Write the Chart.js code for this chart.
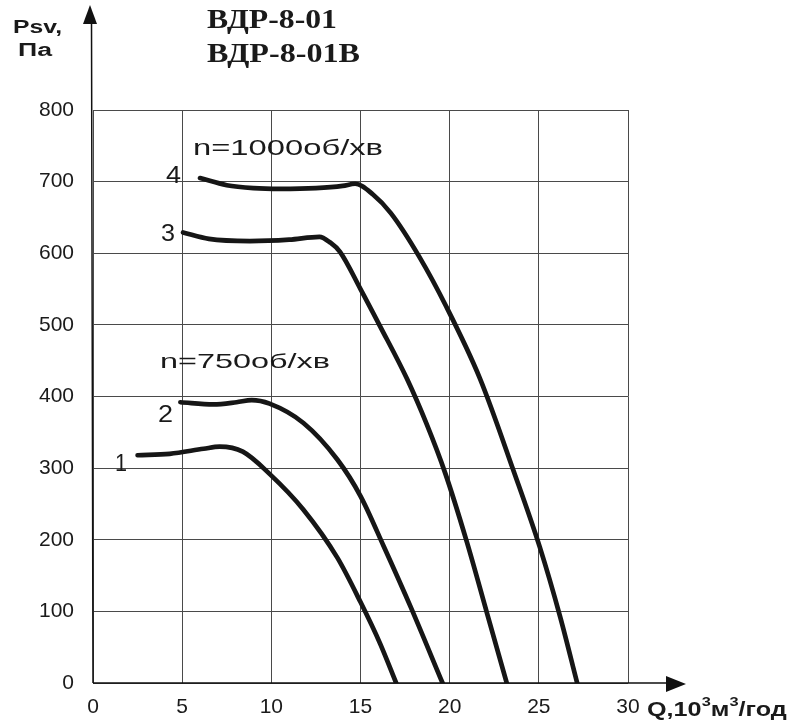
<!DOCTYPE html>
<html>
<head>
<meta charset="utf-8">
<script src="https://cdn.jsdelivr.net/npm/chart.js@4.4.0/dist/chart.umd.min.js"></script>
<style>
  html, body { margin: 0; padding: 0; background: #fff; }
  #wrap { width: 797px; height: 725px; position: relative; }
</style>
</head>
<body>
<div id="wrap"><canvas id="fanChart" width="797" height="725"></canvas></div>
<script>
// характеристики ВДР-8-01, Q (тис. м3/год) / Psv (Па)
const q1 = [2.5, 4.3, 6.2, 7.1, 8.4, 9.9, 11.8, 13.7, 15.0, 16.1, 17.0];
const p1 = [318, 320, 327, 330, 323, 292, 242, 175, 113, 55, 0];
const q2 = [4.9, 6.75, 8.05, 8.9, 9.9, 11.8, 13.7, 15.0, 16.3, 17.8, 19.6];
const p2 = [392, 389, 392, 395, 390, 363, 312, 261, 191, 107, 0];
const q3 = [5.05, 6.5, 8.8, 11.0, 12.7, 13.3, 13.85, 15.0, 16.1, 17.6, 18.7, 19.75, 20.95, 22.1, 23.2];
const p3 = [629, 620, 617, 619, 623, 615, 602, 550, 498, 425, 362, 293, 198, 97, 0];
const q4 = [6.0, 7.5, 9.0, 10.5, 12.5, 14.0, 14.7, 15.7, 16.7, 18.3, 19.8, 21.7, 23.6, 25.05, 26.2, 27.15];
const p4 = [705, 695, 691, 690, 691, 694, 697, 682, 656, 595, 526, 425, 295, 190, 92, 0];

const xTicks = [0, 5, 10, 15, 20, 25, 30];
const yTicks = [0, 100, 200, 300, 400, 500, 600, 700, 800];

function pts(qs, ps) {
    return qs.map((q, i) => ({ x: q, y: ps[i] }));
}

function curve(qs, ps) {
    return {
        data: pts(qs, ps),
        borderColor: '#161616',
        borderWidth: 4.7,
        borderCapStyle: 'round',
        borderJoinStyle: 'round',
        pointRadius: 0,
        fill: false,
        cubicInterpolationMode: 'monotone'
    };
}

// текст з горизонтальним розтягуванням, як у скані
function wideText(ctx, text, x, y, font, width) {
    ctx.save();
    ctx.font = font;
    const w = ctx.measureText(text).width;
    ctx.translate(x, y);
    ctx.scale(width / w, 1);
    ctx.textAlign = 'left';
    ctx.textBaseline = 'alphabetic';
    ctx.fillText(text, 0, 0);
    ctx.restore();
}

const decor = {
    id: 'decor',
    afterDraw(chart) {
        const ctx = chart.ctx;
        const xs = chart.scales.x, ys = chart.scales.y;
        const x0 = xs.getPixelForValue(0), y0 = ys.getPixelForValue(0);
        ctx.save();
        ctx.fillStyle = '#111';
        ctx.strokeStyle = '#111';
        ctx.lineWidth = 1.5;
        // осі зі стрілками
        ctx.beginPath();
        ctx.moveTo(x0, y0);
        ctx.lineTo(x0 - 1.5, 20);
        ctx.moveTo(x0, y0);
        ctx.lineTo(670, y0);
        ctx.stroke();
        ctx.beginPath();
        ctx.moveTo(x0 - 3, 5);
        ctx.lineTo(x0 - 10, 24);
        ctx.lineTo(x0 + 4, 24);
        ctx.closePath();
        ctx.fill();
        ctx.beginPath();
        ctx.moveTo(686, y0 + 1);
        ctx.lineTo(666, y0 - 7);
        ctx.lineTo(666, y0 + 9);
        ctx.closePath();
        ctx.fill();

        ctx.fillStyle = '#1a1a1a';
        wideText(ctx, 'ВДР-8-01', 207, 28, 'bold 27px "Liberation Serif"', 130);
        wideText(ctx, 'ВДР-8-01В', 207, 62, 'bold 27px "Liberation Serif"', 153);
        wideText(ctx, 'Psv,', 13, 33, 'bold 18px "Liberation Sans"', 49);
        wideText(ctx, 'Па', 18, 56, 'bold 18px "Liberation Sans"', 34);

        wideText(ctx, 'n=1000об/хв', 193, 155, '22px "Liberation Sans"', 190);
        wideText(ctx, 'n=750об/хв', 160, 368, '21px "Liberation Sans"', 170);

        wideText(ctx, '4', 166, 183, '23px "Liberation Sans"', 15);
        wideText(ctx, '3', 161, 241, '23px "Liberation Sans"', 14);
        wideText(ctx, '2', 158, 422, '23px "Liberation Sans"', 15);
        wideText(ctx, '1', 115, 471, '23px "Liberation Sans"', 12);

        // підпис осі Q
        const f = 'bold 20px "Liberation Sans"';
        const fs = 'bold 13px "Liberation Sans"';
        let cx = 647;
        const by = 716;
        const parts = [['Q,10', f, 0], ['3', fs, -10], ['м', f, 0], ['3', fs, -10], ['/год', f, 0]];
        parts.forEach(p => {
            ctx.font = p[1];
            const w = ctx.measureText(p[0]).width * 1.26;
            wideText(ctx, p[0], cx, by + p[2], p[1], w);
            cx += w;
        });
        ctx.restore();
    }
};

const ctx = document.getElementById('fanChart').getContext('2d');
new Chart(ctx, {
    type: 'line',
    data: {
        datasets: [curve(q1, p1), curve(q2, p2), curve(q3, p3), curve(q4, p4)]
    },
    options: {
        responsive: false,
        animation: false,
        layout: { padding: { top: 110, right: 169, left: 0, bottom: 0 } },
        plugins: { legend: { display: false }, tooltip: { enabled: false } },
        scales: {
            x: {
                type: 'linear',
                min: 0,
                max: 30,
                afterFit(scale) { scale.height = 42; },
                afterBuildTicks(scale) { scale.ticks = xTicks.map(v => ({ value: v })); },
                grid: { color: '#4a4a4a', lineWidth: 1, drawTicks: false },
                border: { display: false },
                ticks: {
                    padding: 12,
                    color: '#1a1a1a',
                    font: { family: 'Liberation Sans', size: 21 },
                    maxRotation: 0
                }
            },
            y: {
                min: 0,
                max: 800,
                afterFit(scale) { scale.width = 93; },
                afterBuildTicks(scale) { scale.ticks = yTicks.map(v => ({ value: v })); },
                grid: { color: '#4a4a4a', lineWidth: 1, drawTicks: false },
                border: { display: false },
                ticks: {
                    padding: 19,
                    color: '#1a1a1a',
                    font: { family: 'Liberation Sans', size: 21 }
                }
            }
        }
    },
    plugins: [decor]
});
</script>
</body>
</html>
